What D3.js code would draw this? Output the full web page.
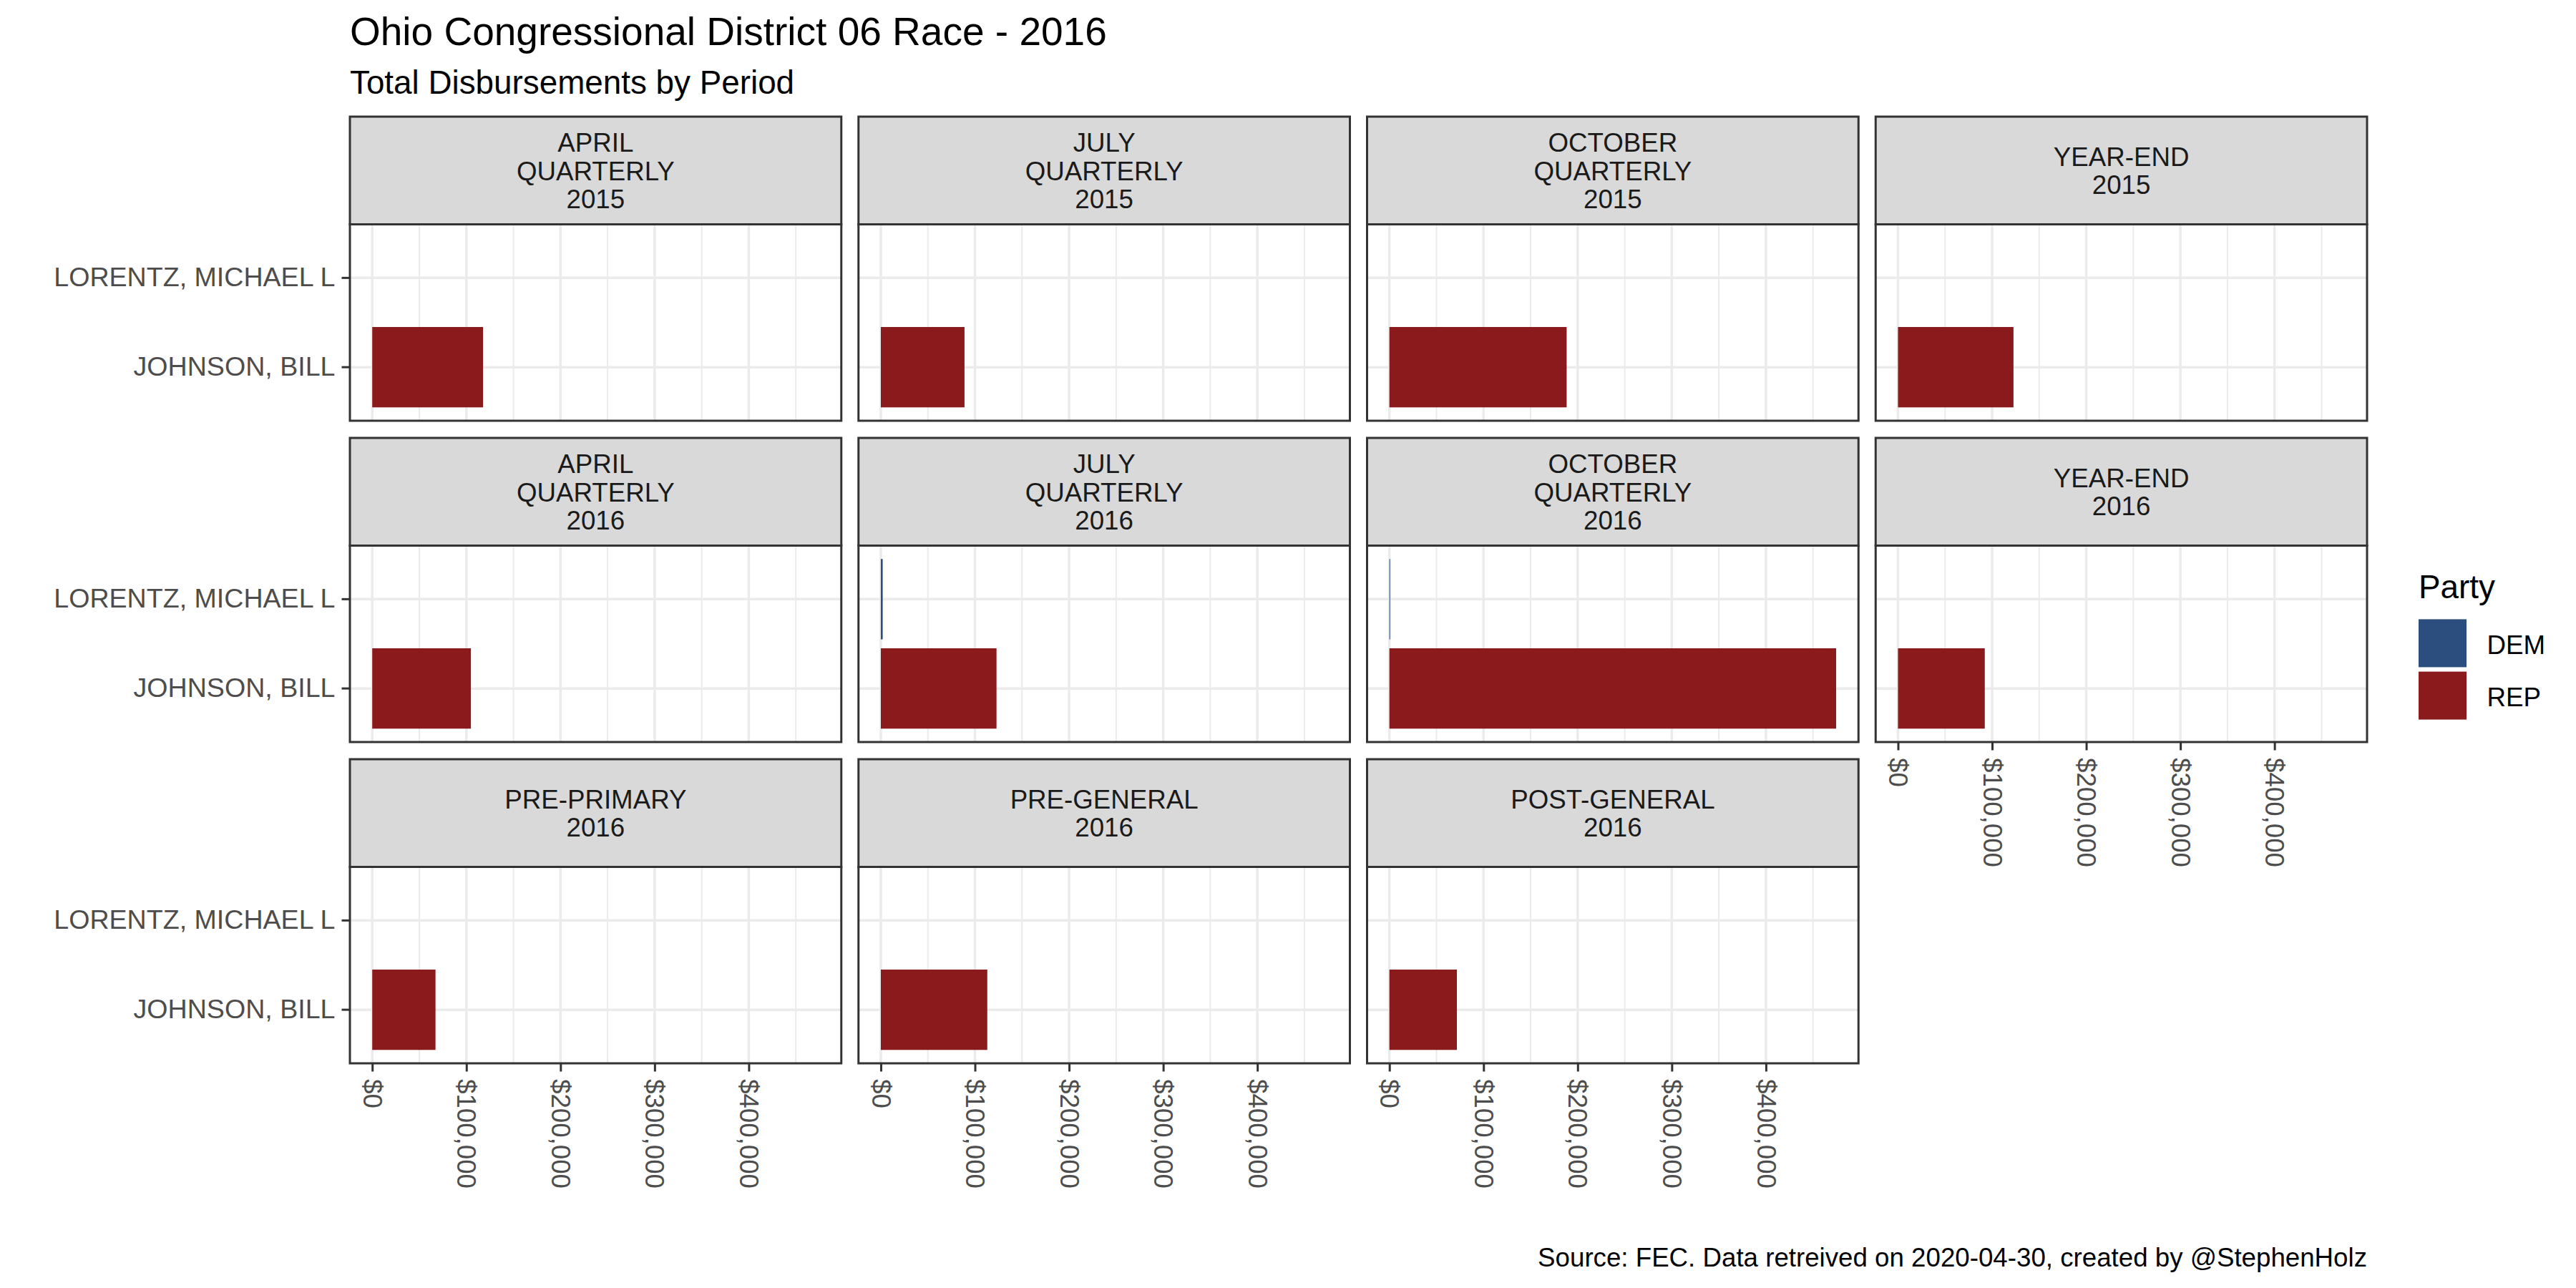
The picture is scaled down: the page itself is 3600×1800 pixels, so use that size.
<!DOCTYPE html>
<html>
<head>
<meta charset="utf-8">
<script src="https://cdn.jsdelivr.net/npm/d3@7"></script>
<style>
  body { margin: 0; background: #fff; }
  text { font-family: "Liberation Sans", Arial, sans-serif; }
</style>
</head>
<body>
<div id="chart"></div>
<script>
'use strict';

// facet labels, in facet_wrap order (4 columns)
var periods = [
    "APRIL\nQUARTERLY\n2015", "JULY\nQUARTERLY\n2015", "OCTOBER\nQUARTERLY\n2015", "YEAR-END\n2015",
    "APRIL\nQUARTERLY\n2016", "JULY\nQUARTERLY\n2016", "OCTOBER\nQUARTERLY\n2016", "YEAR-END\n2016",
    "PRE-PRIMARY\n2016", "PRE-GENERAL\n2016", "POST-GENERAL\n2016"
];
var candidates = ["LORENTZ, MICHAEL L", "JOHNSON, BILL"];
var candidateParty = ["DEM", "REP"];

// total disbursements per period
var johnsonBill    = [117700, 88900, 188300, 122700, 104800, 122900, 474600, 92200, 67200, 113100, 71700];
var lorentzMichael = [null, null, null, null, null, 2000, 800, null, null, null, null];

var parties = ["DEM", "REP"];
var partyColors = ["#2C4E7F", "#8B1A1C"];

var xBreaks = [0, 100000, 200000, 300000, 400000];
var xMinorBreaks = [50000, 150000, 250000, 350000, 450000];

var W = 3600, H = 1800,
    plotLeft = 489,
    plotTop = 163,
    nCols = 4,
    panelW = 686.75,
    colStep = 710.75,
    stripH = 150.5,
    panelH = 274.5,
    rowStep = 449,
    fontSmall = 36.7,
    borderColor = "#333333",
    gridColor = "#EBEBEB";

var bars = [];
periods.forEach(function (p, i) {
    [lorentzMichael, johnsonBill].forEach(function (series, k) {
        if (series[i] == null) return;
        bars.push({panel: i, candidate: candidates[k], party: candidateParty[k], value: series[i]});
    });
});

var xMax = d3.max(bars, function (d) { return d.value; });

var x = d3.scaleLinear()
    .domain([-0.05 * xMax, 1.05 * xMax])
    .range([0, panelW]);

var y = d3.scaleBand()
    .domain(candidates)
    .range([0, panelH])
    .paddingInner(0.1)
    .paddingOuter(0.15);

var color = d3.scaleOrdinal().domain(parties).range(partyColors);

var money = function (v) { return "$" + d3.format(",")(v); };

var svg = d3.select("#chart").append("svg")
    .attr("width", W)
    .attr("height", H)
    .attr("viewBox", "0 0 " + W + " " + H);

svg.append("rect").attr("width", W).attr("height", H).attr("fill", "#fff");

// titles
svg.append("text")
    .attr("x", plotLeft).attr("y", 63)
    .attr("font-size", 55)
    .attr("fill", "#000")
    .text("Ohio Congressional District 06 Race - 2016");

svg.append("text")
    .attr("x", plotLeft).attr("y", 130.5)
    .attr("font-size", 45.8)
    .attr("fill", "#000")
    .text("Total Disbursements by Period");

periods.forEach(function (label, i) {
    var col = i % nCols,
        row = Math.floor(i / nCols),
        gx = plotLeft + col * colStep,
        gy = plotTop + row * rowStep;

    // strip
    var strip = svg.append("g").attr("transform", "translate(" + gx + "," + gy + ")");
    strip.append("rect")
        .attr("width", panelW).attr("height", stripH)
        .attr("fill", "#D9D9D9")
        .attr("stroke", borderColor).attr("stroke-width", 3);

    var lines = label.split("\n"),
        lineGap = 39.5,
        first = stripH / 2 + 13.3 - (lines.length - 1) / 2 * lineGap;
    strip.append("text")
        .attr("text-anchor", "middle")
        .attr("font-size", fontSmall)
        .attr("fill", "#1A1A1A")
        .selectAll("tspan")
        .data(lines)
        .enter().append("tspan")
        .attr("x", panelW / 2)
        .attr("y", function (d, j) { return first + j * lineGap; })
        .text(function (d) { return d; });

    // panel
    var g = svg.append("g").attr("transform", "translate(" + gx + "," + (gy + stripH) + ")");
    g.append("rect").attr("width", panelW).attr("height", panelH).attr("fill", "#fff");

    g.selectAll("line.minor")
        .data(xMinorBreaks)
        .enter().append("line")
        .attr("class", "minor")
        .attr("x1", x).attr("x2", x)
        .attr("y1", 0).attr("y2", panelH)
        .attr("stroke", gridColor).attr("stroke-width", 2);

    g.selectAll("line.majorx")
        .data(xBreaks)
        .enter().append("line")
        .attr("class", "majorx")
        .attr("x1", x).attr("x2", x)
        .attr("y1", 0).attr("y2", panelH)
        .attr("stroke", gridColor).attr("stroke-width", 3.5);

    g.selectAll("line.majory")
        .data(candidates)
        .enter().append("line")
        .attr("class", "majory")
        .attr("x1", 0).attr("x2", panelW)
        .attr("y1", function (d) { return y(d) + y.bandwidth() / 2; })
        .attr("y2", function (d) { return y(d) + y.bandwidth() / 2; })
        .attr("stroke", gridColor).attr("stroke-width", 3.5);

    g.selectAll("rect.bar")
        .data(bars.filter(function (d) { return d.panel === i; }))
        .enter().append("rect")
        .attr("class", "bar")
        .attr("x", x(0))
        .attr("y", function (d) { return y(d.candidate); })
        .attr("width", function (d) { return x(d.value) - x(0); })
        .attr("height", y.bandwidth())
        .attr("fill", function (d) { return color(d.party); });

    g.append("rect")
        .attr("width", panelW).attr("height", panelH)
        .attr("fill", "none")
        .attr("stroke", borderColor).attr("stroke-width", 3);

    // y axis on first column
    if (col === 0) {
        var yAxis = g.append("g")
            .call(d3.axisLeft(y).tickSize(11.5).tickPadding(9));
        yAxis.select(".domain").remove();
        yAxis.selectAll(".tick line").attr("stroke", borderColor).attr("stroke-width", 3);
        yAxis.selectAll(".tick text")
            .attr("font-size", 37.6)
            .attr("font-family", "Liberation Sans, Arial, sans-serif")
            .attr("fill", "#4D4D4D");
    }

    // x axis where no panel sits below
    if (i + nCols >= periods.length) {
        var xAxis = g.append("g")
            .attr("transform", "translate(0," + panelH + ")")
            .call(d3.axisBottom(x).tickValues(xBreaks).tickFormat(money).tickSize(11.5));
        xAxis.select(".domain").remove();
        xAxis.selectAll(".tick line").attr("stroke", borderColor).attr("stroke-width", 3);
        xAxis.selectAll(".tick text")
            .attr("transform", "rotate(90)")
            .attr("x", 22)
            .attr("y", 0)
            .attr("dy", "0.35em")
            .attr("text-anchor", "start")
            .attr("font-size", fontSmall)
            .attr("font-family", "Liberation Sans, Arial, sans-serif")
            .attr("fill", "#4D4D4D");
    }
});

// legend
var legend = svg.append("g").attr("transform", "translate(3380,0)");
legend.append("text")
    .attr("x", 0).attr("y", 836)
    .attr("font-size", 45.8)
    .attr("fill", "#000")
    .text("Party");

var keys = legend.selectAll("g.key")
    .data(parties)
    .enter().append("g")
    .attr("class", "key")
    .attr("transform", function (d, j) { return "translate(0," + (865.4 + j * 73.2) + ")"; });

keys.append("rect")
    .attr("width", 67).attr("height", 67)
    .attr("fill", function (d) { return color(d); });

keys.append("text")
    .attr("x", 95.6).attr("y", 48.6)
    .attr("font-size", fontSmall)
    .attr("fill", "#000")
    .text(function (d) { return d; });

// caption
svg.append("text")
    .attr("x", plotLeft + 3 * colStep + panelW).attr("y", 1770)
    .attr("text-anchor", "end")
    .attr("font-size", fontSmall)
    .attr("fill", "#000")
    .text("Source: FEC. Data retreived on 2020-04-30, created by @StephenHolz");
</script>
</body>
</html>
